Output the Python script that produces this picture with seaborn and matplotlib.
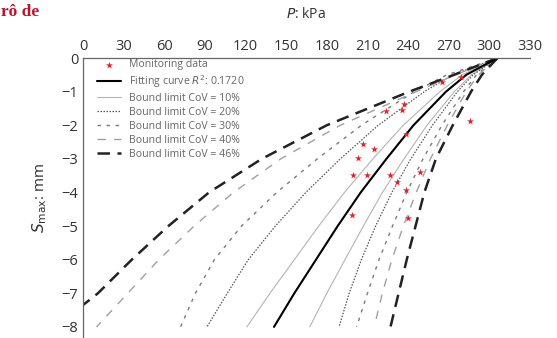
import matplotlib
matplotlib.use("Agg")
import matplotlib.pyplot as plt
import seaborn as sns
import pandas as pd

# Monitoring data: load P (kPa) vs max settlement (mm)
mon_p = [265, 279, 237, 235.5, 224, 238.5, 286, 207, 215, 203, 199, 210, 227, 232, 238.5, 249, 198.5, 240]
mon_s = [-0.70, -0.56, -1.38, -1.56, -1.59, -2.26, -1.88, -2.56, -2.70, -2.97, -3.47, -3.47, -3.47, -3.68, -3.94, -3.38, -4.68, -4.76]

# Settlement levels (mm) at which the curves are tabulated
s_levels = [0, -0.5, -1, -2, -3, -4, -5, -6, -7, -8]

# Fitting curve: load (kPa) at each settlement level
fit_p = [306, 283, 268, 244, 224, 205, 188, 172, 156, 141]

# Bound limit curves, lower branch (left) and upper branch (right)
b10l_p = [306, 280, 263.5, 236.5, 214, 193, 174, 156, 138, 121]
b10r_p = [306, 286.7, 274.2, 254, 237, 221, 207, 193.4, 180, 167.4]

b20l_p = [306, 273, 252, 218, 190, 164.5, 142, 122, 106.5, 91.5]
b20r_p = [306, 288, 276.4, 258, 242, 228, 216, 205.5, 196.5, 189]

b30l_p = [306, 268.7, 244.6, 205.6, 173, 143, 117, 97, 83, 72]
b30r_p = [306, 290.5, 281, 265, 251, 239, 228.5, 218.5, 210, 202]

b40l_p = [306, 275, 246, 190, 146, 111, 82, 56, 33, 10]
b40r_p = [306, 292, 283, 269, 256.5, 246, 236.5, 228, 221, 215]

b46l_p = [306, 274, 241, 180, 132, 93, 63, 36, 11, 0]
b46l_s = [0, -0.5, -1, -2, -3, -4, -5, -6, -7, -7.35]
b46r_p = [306, 294.5, 286.5, 273, 260.5, 252, 245.5, 239, 233, 227]

legend_labels = [
    "Monitoring data",
    r"Fitting curve $R^2$: 0.1720",
    "Bound limit CoV = 10%",
    "Bound limit CoV = 20%",
    "Bound limit CoV = 30%",
    "Bound limit CoV = 40%",
    "Bound limit CoV = 46%",
]

sns.set_theme(style="white")
plt.rcParams["font.family"] = ["Open Sans", "DejaVu Sans"]

fig = plt.figure(figsize=(5.57, 3.38), dpi=100)
ax = fig.add_axes([83 / 557, 0.0, (530 - 83) / 557, 280 / 338])

styles = {
    "10": dict(color="#b4b4b4", lw=0.8, ls="-"),
    "20": dict(color="#555555", lw=0.9, ls=(0, (1.2, 1.2))),
    "30": dict(color="#7a7a7a", lw=1.0, ls=(0, (2.5, 4))),
    "40": dict(color="#a0a0a0", lw=1.0, ls=(0, (6, 6))),
    "46": dict(color="#222222", lw=1.8, ls=(0, (5, 3))),
}

curves = [
    ("10", b10l_p, s_levels, b10r_p, legend_labels[2]),
    ("20", b20l_p, s_levels, b20r_p, legend_labels[3]),
    ("30", b30l_p, s_levels, b30r_p, legend_labels[4]),
    ("40", b40l_p, s_levels, b40r_p, legend_labels[5]),
    ("46", b46l_p, b46l_s, b46r_p, legend_labels[6]),
]

handles = {}
for key, lp, ls_vals, rp, lab in curves:
    st = styles[key]
    left = pd.DataFrame({"P": lp, "S": ls_vals})
    right = pd.DataFrame({"P": rp, "S": s_levels})
    sns.lineplot(data=left, x="P", y="S", sort=False, estimator=None, ax=ax,
                 color=st["color"], lw=st["lw"], linestyle=st["ls"])
    handles[lab] = ax.lines[-1]
    sns.lineplot(data=right, x="P", y="S", sort=False, estimator=None, ax=ax,
                 color=st["color"], lw=st["lw"], linestyle=st["ls"])

sns.lineplot(x=fit_p, y=s_levels, sort=False, estimator=None, ax=ax,
             color="black", lw=1.5)
hfit = ax.lines[-1]
hmon = ax.scatter(mon_p, mon_s, marker="*", s=28, color="#e8202a", zorder=5,
                  linewidths=0)

ax.set_xlim(0, 330)
ax.set_ylim(-8.33, 0)
ax.set_xlabel("")
ax.set_xticks(range(0, 331, 30))
ax.set_yticks(range(-8, 1))
ax.set_yticklabels(["\u22128", "\u22127", "\u22126", "\u22125", "\u22124",
                    "\u22123", "\u22122", "\u22121", "0"])
ax.xaxis.tick_top()
ax.tick_params(axis="both", labelsize=10.5, colors="#333333", length=3,
               direction="in", width=0.6)
ax.tick_params(axis="x", length=0, pad=3)
for side in ["right", "bottom"]:
    ax.spines[side].set_visible(False)
for side in ["left", "top"]:
    ax.spines[side].set_color("#666666")
    ax.spines[side].set_linewidth(0.9)

ax.set_ylabel(r"$S_{\rm max}$: mm", fontsize=11, color="#333333", labelpad=9)
fig.text(306 / 557, 1 - 14 / 338, r"$P$: kPa", fontsize=10, color="#333333",
         ha="center", va="center")

hl = [hmon, hfit] + [handles[l] for l in legend_labels[2:]]
ax.legend(hl, legend_labels, loc="upper left", frameon=False, fontsize=7.6,
          labelcolor="#666666", handlelength=2.3, handletextpad=0.7,
          borderaxespad=0.0, labelspacing=0.28, bbox_to_anchor=(0.022, 1.01))

fig.text(1 / 557, 1 - 12 / 338, "rô de", fontsize=12.5, color="#c0102a",
         fontweight="bold", family="Liberation Serif", ha="left", va="center")

fig.savefig("out.png", dpi=100)
